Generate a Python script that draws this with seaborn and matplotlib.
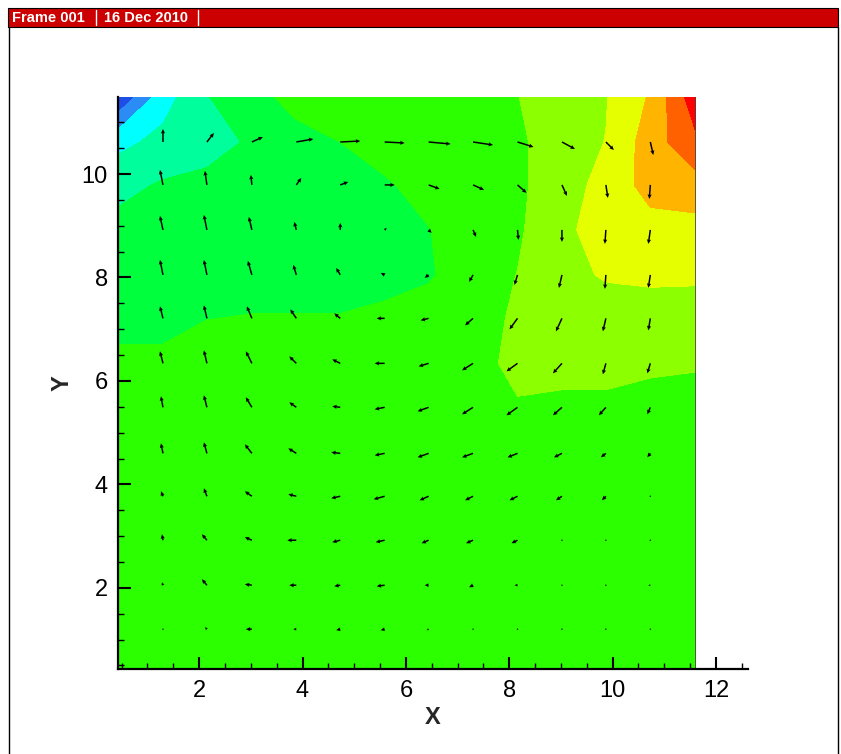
import numpy as np
import matplotlib
matplotlib.use('Agg')
import matplotlib.pyplot as plt
from matplotlib.colors import ListedColormap, BoundaryNorm
from matplotlib.ticker import MultipleLocator
from matplotlib.lines import Line2D
from matplotlib.patches import Rectangle
import seaborn as sns

sns.set_style('white')
plt.rcParams['font.family'] = ['Liberation Sans', 'DejaVu Sans']

# grid nodes (y listed top to bottom)
x_nodes = [0.42, 1.3, 2.15, 3.02, 3.88, 4.73, 5.59, 6.44, 7.3, 8.16, 9.02, 9.87, 10.73, 11.6]
y_nodes = [11.49, 10.62, 9.79, 8.92, 8.05, 7.21, 6.34, 5.49, 4.6, 3.77, 2.92, 2.05, 1.2, 0.43]

# contour variable at the nodes, rows top to bottom
field = [
    [0.05, 2.56, 3.95, 4.7, 5.3, 5.5, 5.5, 5.5, 5.7, 5.98, 6.5, 6.95, 8.1, 10.6],
    [2.7, 3.3, 3.7, 4.1, 4.7, 5.0, 5.35, 5.5, 5.5, 5.8, 6.6, 7.02, 8.5, 9.78],
    [3.7, 4.1, 4.2, 4.4, 4.6, 4.7, 4.9, 5.3, 5.5, 5.8, 6.6, 7.3, 8.4, 8.58],
    [4.3, 4.4, 4.4, 4.5, 4.5, 4.5, 4.6, 4.97, 5.5, 5.85, 6.8, 7.4, 7.6, 7.65],
    [4.5, 4.5, 4.5, 4.6, 4.6, 4.6, 4.7, 4.9, 5.5, 6.02, 6.7, 7.1, 7.2, 7.1],
    [4.6, 4.6, 4.98, 5.05, 5.05, 5.05, 5.2, 5.4, 5.6, 6.15, 6.4, 6.5, 6.5, 6.7],
    [5.3, 5.3, 5.5, 5.5, 5.5, 5.5, 5.5, 5.5, 5.6, 6.3, 6.3, 6.3, 6.1, 6.05],
    [5.5, 5.5, 5.5, 5.5, 5.5, 5.5, 5.5, 5.5, 5.5, 5.9, 5.8, 5.8, 5.8, 5.8],
    [5.5] * 14,
    [5.5] * 14,
    [5.5] * 14,
    [5.5] * 14,
    [5.5] * 14,
    [5.5] * 14,
]

levels = list(range(12))
band_colors = ['#1e4ee6', '#2c8cf5', '#00ffff', '#00ff9c', '#00ff3c', '#2bff00',
               '#8cff00', '#e6ff00', '#ffb400', '#ff6000', '#ff0000']

# velocity at interior nodes (rows top to bottom), screen units
u_vel = [
    [0, 7, 11, 17, 20, 20, 22, 20, 16, 13, 8, 3],
    [-3, -2, -1, 5, 8, 10, 11, 11, 9, 5, 2, -1],
    [-3, -3, -3, -2, 0, 2, 3, 3, 1, 0, -1, -2],
    [-3, -3, -4, -3, -4, -4, -4, -4, -3, -3, -1, -2],
    [-3, -3, -5, -6, -6, -8, -8, -8, -8, -6, -3, -2],
    [-3, -3, -6, -7, -8, -10, -10, -11, -11, -9, -3, -3],
    [-2, -3, -6, -7, -8, -10, -11, -11, -11, -9, -7, -3],
    [-2, -3, -7, -8, -9, -10, -11, -11, -10, -8, -5, -3],
    [-2, -3, -7, -8, -9, -11, -9, -8, -8, -6, -4, -1],
    [-1, -5, -7, -9, -8, -9, -7, -7, -6, -1, -0.5, -0.5],
    [-1, -5, -7, -7, -6, -8, -4, -4, -3, -0.5, 0, -2],
    [0, -2, -6, -3, -4, -4, -2, 0, 0, 0, -0.5, 0],
]
v_vel = [
    [13, 9, 5, 3, 1, -1, -2, -3, -5, -7, -8, -13],
    [15, 14, 10, 7, 3, 0, -4, -5, -8, -11, -13, -14],
    [14, 15, 13, 8, 7, 2, -3, -7, -10, -12, -14, -14],
    [15, 15, 14, 10, 7, 2, -3, -7, -10, -13, -14, -13],
    [12, 13, 12, 9, 5, 0, -2, -7, -11, -13, -13, -12],
    [12, 13, 12, 7, 4, 0, -3, -7, -8, -10, -11, -10],
    [11, 12, 10, 5, 1, -2, -4, -7, -8, -8, -8, -7],
    [10, 11, 9, 5, 1, -2, -4, -4, -4, -4, -4, -4],
    [5, 8, 5, 2, -2, -3, -4, -4, -4, -4, -4, -1],
    [6, 6, 3, 0, -2, -2, -3, -3, -3, 0, 0, 0],
    [3, 6, 1, 0, -1, -1, 0, -2, 0, 0, 0, 0],
    [1, 2, 0, 0, -1, -1, -1, 0, 0, 0, 0, 0],
]

W, H = 841, 754
fig = plt.figure(figsize=(W / 100, H / 100), dpi=100)
ax = fig.add_axes([117.5 / W, 85 / H, (748 - 117.5) / W, 572 / H])
ax.set_axisbelow(False)

X, Y = np.meshgrid(x_nodes, y_nodes)
P = np.array(field)
cmap = ListedColormap(band_colors)
norm = BoundaryNorm(levels, cmap.N)
ax.contourf(X, Y, P, levels=levels, cmap=cmap, norm=norm, antialiased=False, zorder=0)

Xv, Yv = np.meshgrid(x_nodes[1:13], y_nodes[1:13])
ax.quiver(Xv, Yv, np.array(u_vel, float), np.array(v_vel, float),
          units='dots', angles='uv', scale_units='dots', scale=1, pivot='tail',
          width=1.5, headwidth=2.8, headlength=3.0, headaxislength=2.7,
          color='black', zorder=3)

# right edge of the zone
ax.plot([x_nodes[-1], x_nodes[-1]], [y_nodes[-1], y_nodes[0]], color='#444444', lw=0.6)

ax.set_xlim(0.42, 12.62)
ax.set_ylim(0.43, 11.49)
ax.set_facecolor('white')
for s in ['top', 'right']:
    ax.spines[s].set_visible(False)
for s in ['left', 'bottom']:
    ax.spines[s].set_linewidth(1.6)
    ax.spines[s].set_color('black')

ax.xaxis.set_major_locator(MultipleLocator(2))
ax.xaxis.set_minor_locator(MultipleLocator(0.5))
ax.yaxis.set_major_locator(MultipleLocator(2))
ax.yaxis.set_minor_locator(MultipleLocator(0.5))
ax.tick_params(which='major', direction='in', length=9, width=1.5, labelsize=17,
               color='black', labelcolor='black')
ax.tick_params(which='minor', direction='in', length=4.5, width=1.0, color='black')
ax.tick_params(axis='x', which='major', pad=8)
ax.tick_params(axis='y', which='major', pad=7)
ax.tick_params(bottom=True, left=True, which='both')

ax.set_xlabel('X', fontsize=17, fontweight='bold', labelpad=3)
ax.set_ylabel('Y', fontsize=17, fontweight='bold', labelpad=6)

# frame header
fig.add_artist(Rectangle((8 / W, 1 - 27 / H), 830 / W, 19 / H, transform=fig.transFigure,
                         facecolor='#cc0000', edgecolor='black', lw=0.8))
fig.text(12 / W, 1 - 17.5 / H, 'Frame 001', color='white', fontweight='bold',
         fontsize=10.5, va='center', ha='left')
fig.text(104 / W, 1 - 17.5 / H, '16 Dec 2010', color='white', fontweight='bold',
         fontsize=10.5, va='center', ha='left')
for xp in [96, 198]:
    fig.add_artist(Line2D([xp / W, xp / W], [1 - 25 / H, 1 - 10 / H],
                          transform=fig.transFigure, color='white', lw=1))
# page border
for xp in [8.5, 838]:
    fig.add_artist(Line2D([xp / W, xp / W], [0, 1 - 27 / H],
                          transform=fig.transFigure, color='black', lw=1))

fig.savefig('out.png', dpi=100)
